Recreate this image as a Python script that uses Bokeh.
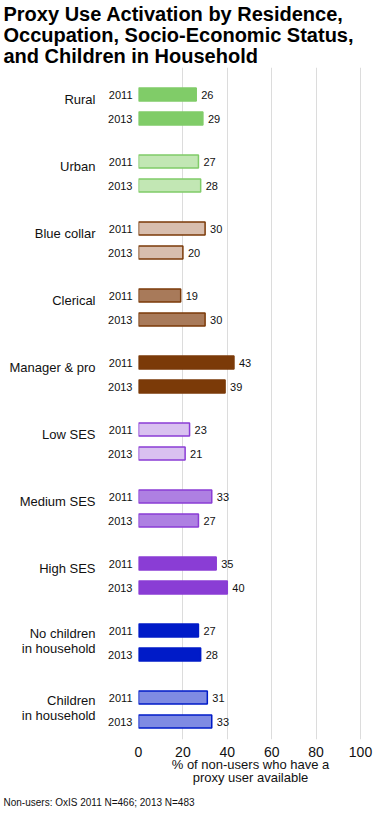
from bokeh.plotting import figure
from bokeh.models import (ColumnDataSource, FixedTicker, LinearAxis, Range1d, Title)
from bokeh.core.properties import value
from bokeh.embed import file_html
from bokeh.resources import INLINE

# ---- data ----
categories = ["Rural", "Urban", "Blue collar", "Clerical", "Manager & pro",
              "Low SES", "Medium SES", "High SES",
              "No children\nin household", "Children\nin household"]
years = ["2011", "2013"]
values_2011 = [26, 27, 30, 19, 43, 23, 33, 35, 27, 31]
values_2013 = [29, 28, 20, 30, 39, 21, 27, 40, 28, 33]
x_ticks = [0, 20, 40, 60, 80, 100]

fill_colors = ["#80CC68", "#C2E7B4", "#D8BEAE", "#A87A5A", "#7B3A08",
               "#D9C1F0", "#AE80E2", "#8A3DD5", "#001BC8", "#7F8BE3"]
line_colors = ["#80CC68", "#80CC68", "#7B3A08", "#7B3A08", "#7B3A08",
               "#8A3DD5", "#8A3DD5", "#8A3DD5", "#001BC8", "#001BC8"]

FONT = "Liberation Sans"
GROUP_STEP = 67
YEAR_STEP = 24

FRAME_W, FRAME_H = 224, 672
B_LEFT, B_RIGHT, B_TOP, B_BOTTOM = 138, 20, 60, 72

# ---- build bar table ----
ys, xs, fills, lines, labels = [], [], [], [], []
year_ticks, year_over = [], {}
for i, cat in enumerate(categories):
    for j, vals in enumerate([values_2011, values_2013]):
        y = i * GROUP_STEP + j * YEAR_STEP
        ys.append(y)
        xs.append(vals[i])
        fills.append(fill_colors[i])
        lines.append(line_colors[i])
        labels.append(str(vals[i]))
        year_ticks.append(y)
        year_over[y] = years[j]

cat_ticks, cat_over = [], {}
for i, cat in enumerate(categories):
    nlines = cat.count("\n") + 1
    y = i * GROUP_STEP + (5 if nlines == 1 else 10)
    cat_ticks.append(y)
    cat_over[y] = cat

src = ColumnDataSource(dict(y=ys, x=xs, fill=fills, line=lines, label=labels))

p = figure(frame_width=FRAME_W, frame_height=FRAME_H,
           output_backend="svg", toolbar_location=None,
           x_range=Range1d(0, 100.9), y_range=Range1d(645, -27),
           min_border_left=B_LEFT, min_border_right=B_RIGHT,
           min_border_top=B_TOP, min_border_bottom=B_BOTTOM)
p.outline_line_color = None
p.background_fill_color = "white"

p.hbar(y="y", right="x", left=0, height=13, source=src,
       fill_color="fill", line_color="line", line_width=1.5)
p.text(x="x", y="y", text="label", source=src, x_offset=5,
       text_baseline="middle", text_align="left",
       text_font=value(FONT), text_font_size="11px", text_color="#111111")

# x axis
xa = p.xaxis[0]
xa.ticker = FixedTicker(ticks=x_ticks)
xa.axis_line_color = None
xa.major_tick_line_color = None
xa.major_tick_out = 0
xa.major_tick_in = 0
xa.minor_tick_line_color = None
xa.major_label_text_font = FONT
xa.major_label_text_font_size = "14px"
xa.major_label_text_color = "#111111"
xa.major_label_standoff = 7
xa.axis_label = "% of non-users who have a\nproxy user available"
xa.axis_label_text_font = FONT
xa.axis_label_text_font_size = "13px"
xa.axis_label_text_font_style = "normal"
xa.axis_label_text_color = "#111111"
xa.axis_label_text_line_height = 0.92
xa.axis_label_standoff = -3

p.xgrid.ticker = FixedTicker(ticks=x_ticks)
p.xgrid.grid_line_color = "#DCDCDC"
p.xgrid.grid_line_width = 1
p.ygrid.visible = False

# year axis (closest to frame)
ya = p.yaxis[0]
ya.ticker = FixedTicker(ticks=year_ticks)
ya.major_label_overrides = year_over
ya.axis_line_color = None
ya.major_tick_line_color = None
ya.major_tick_out = 0
ya.major_tick_in = 0
ya.minor_tick_line_color = None
ya.major_label_text_font = FONT
ya.major_label_text_font_size = "11px"
ya.major_label_text_color = "#111111"
ya.major_label_standoff = 6

# category axis
ca = LinearAxis(ticker=FixedTicker(ticks=cat_ticks), major_label_overrides=cat_over)
ca.axis_line_color = None
ca.major_tick_line_color = None
ca.major_tick_out = 0
ca.major_tick_in = 0
ca.minor_tick_line_color = None
ca.major_label_text_font = FONT
ca.major_label_text_font_size = "13px"
ca.major_label_text_color = "#111111"
ca.major_label_text_line_height = 1.0
ca.major_label_standoff = 10
p.add_layout(ca, "left")

# title and footnote
title = Title(text="Proxy Use Activation by Residence,\nOccupation, Socio-Economic Status,\nand Children in Household",
              align="left", offset=-135, standoff=1,
              text_font=FONT, text_font_size="20px", text_font_style="bold",
              text_line_height=0.95, text_color="#000000")
p.add_layout(title, "above")
foot = Title(text="Non-users: OxIS 2011 N=466; 2013 N=483",
             align="left", offset=-135, standoff=13,
             text_font=FONT, text_font_size="10px", text_font_style="normal",
             text_color="#111111")
p.add_layout(foot, "below")

open("out.html", "w").write(file_html(p, INLINE))
